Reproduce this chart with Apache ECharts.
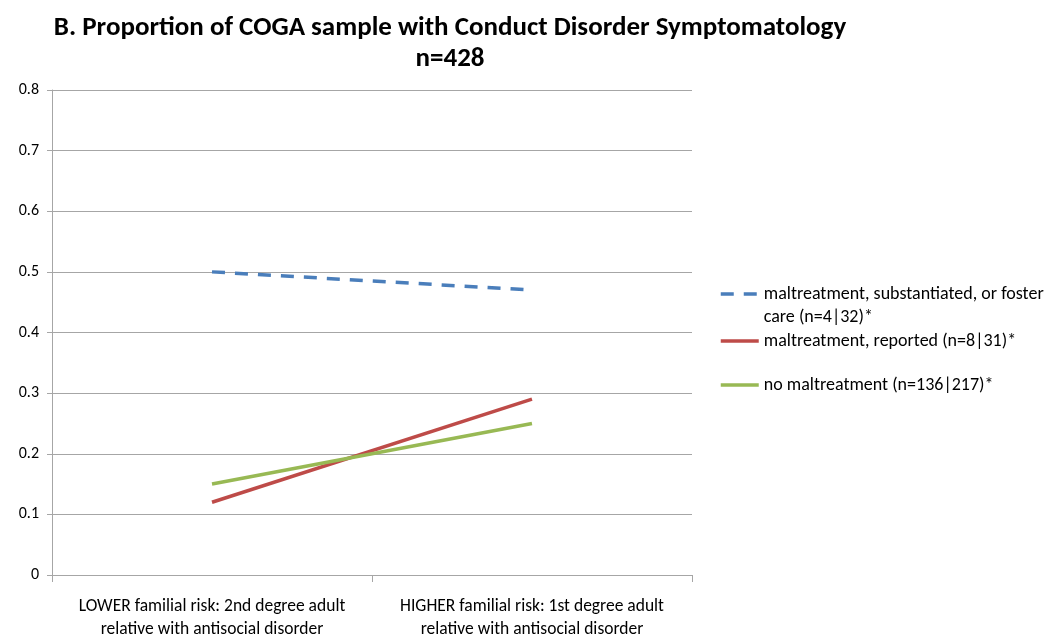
<!DOCTYPE html>
<html><head><meta charset="utf-8">
<script src="https://cdn.jsdelivr.net/npm/echarts@6/dist/echarts.min.js"></script>
<style>html,body{margin:0;padding:0;background:#fff}#c{width:1050px;height:644px}</style>
</head><body><div id="c"></div>
<script>
const categories = ['LOWER familial risk: 2nd degree adult\nrelative with antisocial disorder', 'HIGHER familial risk: 1st degree adult\nrelative with antisocial disorder'];
const seriesNames = ['maltreatment, substantiated, or foster care (n=4|32)*', 'maltreatment, reported (n=8|31)*', 'no maltreatment (n=136|217)*'];
const substantiated = [0.50, 0.47];
const reported = [0.12, 0.29];
const noMaltreatment = [0.15, 0.25];
const yTicks = [0, 0.1, 0.2, 0.3, 0.4, 0.5, 0.6, 0.7, 0.8];

const chart = echarts.init(document.getElementById('c'));
const font = 'Carlito, "Open Sans", "Noto Sans", sans-serif';
const legendBase = {
  orient: 'vertical', left: 714, itemWidth: 38, itemHeight: 4,
  itemStyle: {opacity: 0, borderWidth: 0},
  lineStyle: {width: 3.5},
  textStyle: {fontFamily: font, fontSize: 18, color: '#000', lineHeight: 23}
};
chart.setOption({
  animation: false,
  backgroundColor: '#fff',
  title: {
    text: 'B. Proportion of COGA sample with Conduct Disorder Symptomatology\nn=428',
    left: 445, top: 8, textAlign: 'center',
    textStyle: {fontFamily: font, fontWeight: 'bold', fontSize: 27, lineHeight: 31, color: '#000'}
  },
  grid: {left: 52, right: 358, top: 90, bottom: 69},
  legend: [
    Object.assign({}, legendBase, {top: 254.5, data: [seriesNames[0]],
      formatter: n => ' \n' + n.replace('or foster care', 'or foster\ncare')}),
    Object.assign({}, legendBase, {top: 324.5, data: [seriesNames[1]]}),
    Object.assign({}, legendBase, {top: 368.5, data: [seriesNames[2]]})
  ],
  xAxis: {
    type: 'category', data: categories, boundaryGap: true,
    axisLine: {lineStyle: {color: '#a6a6a6', width: 1}},
    axisTick: {show: true, length: 7, lineStyle: {color: '#a6a6a6'}},
    axisLabel: {fontFamily: font, fontSize: 17.5, color: '#000', lineHeight: 23, margin: 20, interval: 0}
  },
  yAxis: {
    type: 'value', min: yTicks[0], max: yTicks[yTicks.length - 1], interval: 0.1,
    axisLine: {show: true, lineStyle: {color: '#a6a6a6'}},
    axisTick: {show: true, length: 5, lineStyle: {color: '#a6a6a6'}},
    splitLine: {lineStyle: {color: '#a6a6a6'}},
    axisLabel: {fontFamily: font, fontSize: 16, color: '#000', margin: 13, formatter: v => String(Math.round(v * 10) / 10)}
  },
  series: [
    {name: seriesNames[0], type: 'line', data: substantiated, symbol: 'none',
     lineStyle: {color: '#4a7ebb', width: 3.5, type: [13, 10]}, itemStyle: {color: '#4a7ebb'}},
    {name: seriesNames[1], type: 'line', data: reported, symbol: 'none',
     lineStyle: {color: '#be4b48', width: 3.5}, itemStyle: {color: '#be4b48'}},
    {name: seriesNames[2], type: 'line', data: noMaltreatment, symbol: 'none',
     lineStyle: {color: '#98b954', width: 3.5}, itemStyle: {color: '#98b954'}}
  ]
});
</script></body></html>
